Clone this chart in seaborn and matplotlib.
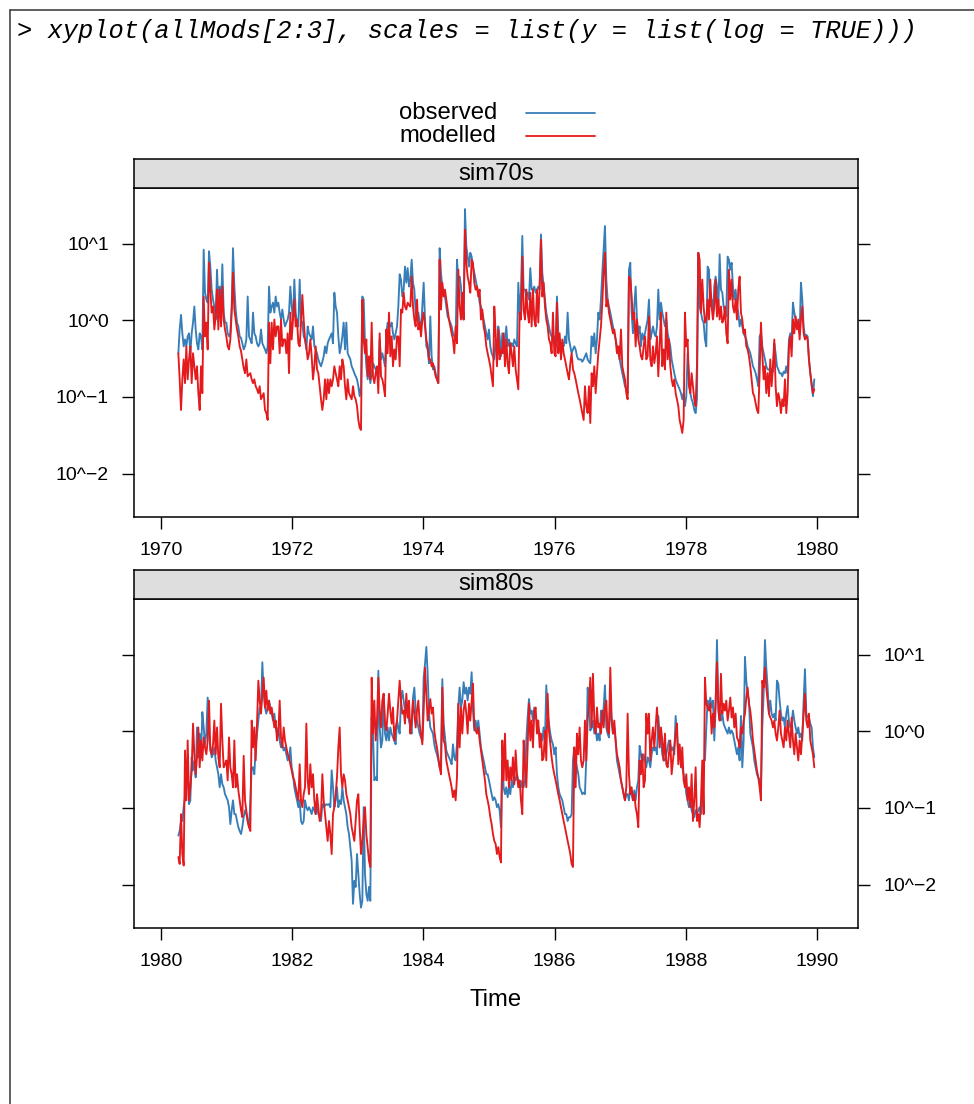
import numpy as np
import pandas as pd
import matplotlib
matplotlib.use("Agg")
import matplotlib.pyplot as plt
import seaborn as sns
from matplotlib.lines import Line2D

# ---------------- data (log10 of flow) ----------------
STEP = 1 / 49.2   # sampling interval of the series, in years (~7.4 days)

obs70_a = [
    -0.43, -0.12, 0.07, -0.17, -0.34, -0.25, -0.34, -0.21, -0.17, -0.43,
    -0.17, -0.03, 0.18, -0.12, -0.30, -0.38, -0.17, -0.21, -0.38, 0.92,
    0.36, 0.27, 0.23, 0.90, 0.70, 0.40, 0.27, 0.18, 0.01, 0.66,
    0.23, 0.44, 0.18, 0.73, 0.10, -0.03, -0.03, -0.17, -0.21, -0.17,
    0.18, 0.94, 0.44, 0.14, -0.03, -0.08, -0.21, -0.23, -0.30, -0.38,
    -0.34, -0.25, 0.31, -0.21, -0.25, -0.30, 0.10, -0.17, -0.21, -0.30,
    -0.34, -0.30, -0.12, -0.30, -0.34, -0.38, -0.43, -0.34, 0.44, 0.10,
    0.18, 0.23, 0.10, 0.31, 0.18, 0.23, 0.10, 0.01, 0.14, 0.01,
    -0.08, -0.03, 0.01, 0.10, 0.44, 0.18, 0.01, 0.53, 0.10, -0.03,
    -0.08, 0.53, 0.01, -0.03, -0.21, -0.25, -0.38, -0.08, -0.17, -0.21,
    -0.25, -0.08, -0.34, -0.38, -0.43, -0.51, -0.56, -0.60, -0.54, -0.47,
    -0.34, -0.43, -0.30, -0.25, -0.21, -0.17, -0.30, 0.36, 0.18, 0.10,
    -0.21, -0.43, -0.34, -0.21, -0.03, -0.38, -0.03, -0.43, -0.47, -0.51,
    -0.60, -0.64, -0.69, -0.73, -0.77, -0.86, -0.99, -0.86, 0.31, 0.27,
    -0.30, -0.60, -0.77, -0.60, -0.82, -0.69, -0.56, -0.60, -0.64, -0.69,
    -0.77, -0.25, -0.51, -0.43, -0.51, -0.60, -0.17, -0.03, -0.08, -0.08,
    -0.03, -0.17, -0.25, -0.17, -0.08, 0.18, 0.60, 0.53, 0.31, 0.40,
    0.70, 0.49, 0.68, 0.44, 0.53, 0.79, 0.49, 0.40, 0.10, 0.01,
    0.10, -0.03, -0.12, 0.18, 0.49, 0.01, -0.34, -0.38, -0.56,
]
mod70_a = [
    -0.43, -0.77, -1.17, -0.77, -0.51, -0.82, -0.34, -0.77, -0.51, -0.34,
    -0.82, -0.43, -0.60, -0.77, -0.60, -0.95, -1.17, -0.60, -0.95, 0.31,
    -0.21, -0.03, -0.38, 0.75, 0.40, 0.10, 0.18, -0.12, 0.05, 0.40,
    -0.12, 0.40, -0.08, 0.44, 0.01, -0.12, -0.21, -0.34, -0.38, -0.25,
    0.10, 0.62, 0.14, 0.01, -0.12, -0.21, -0.34, -0.40, -0.51, -0.62,
    -0.69, -0.51, -0.73, -0.71, -0.69, -0.77, -0.82, -0.77, -0.86, -0.90,
    -0.95, -0.86, -1.03, -0.99, -0.95, -1.17, -1.21, -1.30, -0.03, -0.56,
    -0.03, -0.38, 0.01, -0.21, -0.08, -0.08, -0.43, 0.01, -0.34, -0.25,
    -0.25, -0.43, -0.17, -0.69, 0.10, -0.25, 0.01, 0.27, -0.08, 0.01,
    -0.30, -0.34, -0.03, 0.33, 0.01, -0.25, -0.34, -0.51, -0.43, -0.25,
    -0.47, -0.77, -0.60, -0.34, -0.64, -0.69, -0.86, -1.03, -1.17, -1.03,
    -0.77, -1.03, -0.77, -0.95, -0.77, -0.86, -0.77, -0.60, -0.69, -0.77,
    -0.86, -0.60, -0.77, -0.51, -0.60, -0.86, -1.03, -0.77, -0.95, -0.99,
    -1.03, -0.86, -0.99, -1.03, -1.12, -1.30, -1.40, -1.43, 0.27, -0.25,
    -0.43, -0.25, -0.73, -0.47, -0.77, -0.03, -0.73, -0.82, -0.69, -0.60,
    -0.95, -0.17, -0.73, -0.77, -0.86, -0.99, -0.12, -0.43, 0.10, -0.47,
    -0.21, -0.60, -0.38, -0.51, -0.21, -0.21, -0.60, 0.14, 0.10, 0.36,
    0.18, 0.14, 0.23, 0.20, 0.18, 0.57, 0.18, 0.01, -0.08, 0.27,
    -0.12, -0.03, -0.21, 0.01, 0.10, -0.08, -0.25, -0.34, -0.51,
]
obs70_b = [
    0.05, -0.47, -0.64, -0.60, -0.69, -0.77, -0.82, 0.94, 0.62, 0.44,
    0.36, 0.31, 0.18, 0.05, 0.01, -0.03, -0.08, -0.17, -0.21, -0.25,
    0.79, 0.53, 0.57, 0.44, 0.10, 0.01, 1.45, 0.97, 0.83, 0.70,
    0.88, 0.83, 0.70, 0.62, 0.53, 0.44, 0.36, 0.23, 0.18, 0.10,
    0.01, -0.08, -0.17, -0.25, -0.12, -0.34, -0.43, -0.47, -0.51, -0.25,
    -0.43, -0.08, -0.21, -0.47, -0.17, -0.43, -0.25, -0.08, -0.34, -0.25,
    -0.34, -0.30, -0.34, -0.25, -0.30, -0.34, 0.49, 0.10, 0.36, 1.10,
    0.40, 0.40, 0.31, 0.36, 0.27, 0.68, 0.40, 0.40, 0.44, 0.36,
    0.40, 0.44, 0.40, 1.12, 0.62, 0.44, 0.27, 0.10, 0.01, -0.08,
    -0.17, -0.21, -0.25, -0.21, -0.34, 0.31, -0.17, -0.25, -0.30, -0.30,
    -0.34, -0.21, -0.30, 0.10, -0.25, -0.34, -0.43, -0.38, -0.34, -0.38,
    -0.47, -0.51, -0.51, -0.51, -0.54, -0.51, -0.47, -0.43, -0.51, -0.54,
    -0.56, -0.21, -0.34, -0.17, -0.43, -0.25, 0.10, 0.01, 0.27, 0.62,
    0.92, 1.23, 0.53, 0.27, 0.18, 0.10, 0.01, -0.08, -0.17, -0.25,
    -0.34, -0.43, -0.51, -0.60, -0.69, -0.77, -0.86, -0.90, -0.95, 0.66,
    0.75, 0.10, -0.17, 0.18, 0.44, 0.01, -0.17, -0.08, -0.34, -0.17,
    -0.25, -0.17, -0.08, 0.01, 0.27, -0.25, -0.17, -0.08, -0.17, -0.21,
    -0.08, 0.40, 0.01, 0.23, 0.10, 0.01, -0.08, 0.01, -0.17, -0.25,
    -0.34, -0.51, -0.60, -0.69, -0.77, -0.82, -0.86, -0.90, -0.95, -1.03,
    -0.95, -1.12, -0.99, -0.43, -0.69, -0.95, -1.03, -1.08, -1.17, -1.21,
    -1.03, 0.88, 0.18, 0.10, 0.01, -0.03, -0.25, -0.34, 0.70, 0.66,
    0.18, 0.27, 0.10, 0.44, 0.57, 0.44, 0.10, 0.86, 0.40, 0.36,
    0.18, 0.10, 0.05, 0.83, 0.79, 0.66, 0.75, 0.44, 0.27, 0.40,
    0.18, 0.10, -0.08, 0.01, -0.08, -0.17, -0.21, -0.25, -0.34, -0.38,
    -0.43, -0.51, -0.60, -0.64, -0.69, -0.77, -0.86, -0.21, -0.17, -0.34,
    -0.43, -0.51, -0.60, -0.64, -0.64, -0.67, -0.64, -0.67, -0.30, -0.43,
    -0.60, -0.64, -0.69, -0.69, -0.73, -0.67, -0.69, -0.60, -0.69, -0.25,
    -0.17, -0.25, 0.23, 0.10, 0.01, -0.08, -0.03, -0.17, 0.49, 0.27,
    -0.08, -0.21, -0.19, -0.21, -0.51, -0.69, -0.86, -0.99, -0.77,
]
mod70_b = [
    -0.51, -0.60, -0.56, -0.64, -0.73, -0.77, -0.82, 0.79, 0.14, 0.49,
    0.31, 0.40, 0.27, 0.14, 0.01, -0.08, -0.17, -0.25, -0.43, -0.08,
    -0.30, 0.66, 0.18, 0.01, 0.36, 0.01, 1.18, 0.75, 0.57, 0.49,
    0.36, 0.79, 0.75, 0.49, 0.40, 0.44, 0.31, 0.40, 0.01, 0.14,
    -0.08, -0.17, -0.34, -0.43, -0.51, -0.60, -0.73, -0.86, 0.18, -0.17,
    -0.60, -0.12, -0.51, -0.38, -0.43, -0.17, -0.60, -0.25, -0.56, -0.69,
    -0.30, -0.43, -0.60, -0.34, -0.64, -0.77, -0.90, 0.10, 0.01, 0.83,
    0.14, 0.01, 0.40, 0.10, -0.03, 0.36, -0.08, 0.40, 0.01, -0.08,
    0.40, -0.03, 0.44, 1.05, 0.31, 0.49, 0.18, 0.01, -0.08, -0.25,
    -0.30, -0.43, 0.10, -0.43, -0.47, 0.23, -0.43, -0.17, -0.51, -0.25,
    -0.43, -0.51, -0.60, -0.69, -0.77, -0.56, -0.43, -0.64, -0.69, -0.77,
    -0.86, -0.95, -1.03, -1.12, -1.21, -1.30, -0.86, -1.12, -1.21, -0.86,
    -1.34, -0.69, -0.86, -0.60, -0.95, -0.69, -0.43, -0.25, -0.08, 0.23,
    0.62, 0.88, 0.18, 0.27, 0.10, 0.01, -0.08, -0.17, -0.12, -0.25,
    -0.43, -0.34, -0.51, -0.12, -0.60, -0.69, -0.77, -0.95, -1.03, 0.57,
    0.53, 0.31, 0.01, 0.10, -0.34, 0.01, -0.25, -0.34, -0.47, -0.51,
    -0.34, -0.21, -0.51, -0.47, 0.05, -0.51, -0.60, -0.34, -0.56, -0.43,
    -0.21, -0.73, -0.34, 0.10, -0.60, -0.38, -0.64, 0.10, -0.51, -0.25,
    -0.60, -0.77, -0.86, -0.77, -0.95, -1.03, -1.12, -1.30, -1.38, -1.47,
    -1.30, 0.10, -0.34, -0.25, -0.86, -0.95, -0.69, -0.86, -1.03, -1.12,
    -0.60, 0.88, 0.79, 0.10, 0.53, 0.18, -0.03, 0.01, 0.27, 0.01,
    0.53, 0.18, 0.01, 0.18, 0.53, 0.05, 0.27, 0.01, 0.18, -0.03,
    0.01, 0.18, -0.17, -0.30, 0.66, 0.27, 0.53, 0.18, 0.10, 0.27,
    0.01, 0.40, 0.57, 0.10, 0.01, -0.17, -0.12, -0.34, -0.38, -0.47,
    -0.60, -0.77, -0.95, -0.99, -1.08, -1.17, -1.21, -0.69, -0.03, -0.43,
    -0.77, -0.60, -0.95, -0.69, -0.99, -0.51, -0.86, -0.60, -0.25, -0.86,
    -1.12, -0.95, -1.03, -1.21, -1.03, -1.12, -0.77, -1.21, -0.95, -0.34,
    -0.21, -0.47, 0.01, -0.17, 0.05, -0.12, 0.01, -0.25, 0.01, 0.18,
    -0.17, -0.25, -0.21, -0.25, -0.51, -0.69, -0.82, -0.95, -0.90,
]
obs80_a = [
    -1.36, -1.30, -1.17, -1.17, -0.99, -0.86, -0.73, -0.38, -0.95, -0.90,
    -0.34, -0.51, -0.38, -0.60, 0.05, -0.34, -0.03, -0.34, 0.25, 0.05,
    -0.17, -0.03, 0.44, -0.03, -0.21, -0.34, -0.30, -0.21, -0.38, -0.47,
    -0.56, -0.73, -0.56, -0.69, -0.73, -0.82, -0.86, -0.90, -0.99, -1.21,
    -1.03, -0.90, -1.08, -1.08, -1.17, -1.25, -1.30, -1.34, -1.25, -1.12,
    -1.03, -1.08, -1.17, -1.25, -0.90, -0.47, -0.47, -0.56, -0.21, -0.03,
    0.14, 0.31, 0.31, 0.90, 0.49, 0.31, 0.23, 0.31, 0.40, 0.31,
    0.23, 0.14, 0.23, 0.05, -0.03, 0.05, -0.12, -0.21, -0.17, -0.25,
    -0.21, -0.30, -0.38, -0.34, -0.21, -0.47, -0.56, -0.73, -0.82, -0.90,
    -0.99, -0.90, -1.17, -1.21, -1.17, -0.90, -0.99, -1.03, -0.99, -1.03,
    -1.08, -0.99, -1.03, -1.08, -0.99, -1.08, -1.12, -1.17, -0.95, -0.99,
    -0.97, -0.95, -0.96, -0.95, -0.99, -0.51, -0.73, -0.99, -0.90, -0.73,
    -0.99, -0.90, -0.95, -0.73, -0.90, -0.99, -1.08, -1.25, -1.34, -1.51,
    -1.69, -2.25, -1.95, -2.03, -1.60, -1.86, -2.12, -2.30, -2.21, -0.99,
    -1.86, -2.12, -2.21, -2.03, -2.21, 0.18, -0.03, -0.64, -0.60, -0.64,
    0.79, 0.05, -0.21, -0.12, 0.49, -0.03, -0.12, 0.05, -0.12, 0.05,
    -0.03, -0.08, -0.12, -0.17, 0.14, 0.05, -0.03, 0.40, 0.53, 0.40,
    0.27, 0.40, 0.23, 0.14, 0.05, -0.03, 0.44, 0.57, 0.27, 0.14,
    0.05, -0.03, -0.08, -0.12, 0.70, 0.88, 1.10, 0.75, 0.23,
]
mod80_a = [
    -1.64, -1.73, -1.08, -1.60, -1.75, -0.25, -0.90, -0.12, -0.90, -0.73,
    -0.51, 0.10, -0.30, -0.56, -0.34, 0.05, -0.47, -0.12, -0.38, -0.08,
    -0.21, -0.30, -0.12, 0.40, -0.25, -0.30, -0.17, 0.14, -0.30, 0.05,
    -0.34, -0.47, 0.36, -0.12, -0.47, -0.43, -0.38, -0.64, -0.08, -0.47,
    -0.56, -0.73, -0.12, -0.73, -0.56, -0.77, -0.90, -1.03, -1.12, -0.32,
    -0.90, -1.03, -1.17, -1.25, -1.30, 0.14, -0.21, 0.05, -0.38, 0.10,
    0.66, 0.40, 0.23, 0.49, 0.70, 0.31, 0.53, 0.27, 0.40, 0.23,
    0.31, 0.18, 0.05, 0.14, -0.12, -0.03, 0.40, -0.08, -0.21, 0.05,
    -0.12, -0.21, -0.30, -0.34, -0.43, -0.51, -0.60, -0.64, -0.73, -0.82,
    -0.90, -0.43, -0.90, -0.99, -0.82, -0.73, 0.10, -0.64, -0.82, -0.43,
    -0.73, -0.56, -0.90, -1.08, -0.82, -0.99, -1.17, -1.08, -0.56, -0.90,
    -1.08, -1.25, -1.43, -1.17, -1.34, -1.60, -1.08, -0.99, -0.82, -0.60,
    -0.21, 0.05, -0.56, -0.73, -0.56, -0.64, -0.82, -0.90, -0.99, -1.08,
    -1.25, -1.34, -1.43, -1.17, -0.90, -0.82, -1.25, -1.60, -1.43, -1.17,
    -0.99, -1.34, -1.51, -1.69, -1.77, 0.70, -0.03, 0.40, -0.12, 0.14,
    0.70, 0.27, 0.05, 0.40, 0.49, 0.10, 0.01, 0.23, 0.49, 0.27,
    0.10, 0.31, -0.12, 0.05, 0.14, 0.40, 0.66, 0.40, 0.23, 0.27,
    0.10, 0.49, 0.18, 0.40, -0.03, 0.14, 0.40, 0.23, 0.05, 0.27,
    0.40, 0.10, -0.03, -0.17, 0.27, 0.83, 0.49, 0.14, 0.27,
]
obs80_b = [
    0.05, 0.01, -0.03, -0.17, -0.25, -0.30, -0.38, -0.47, -0.43, 0.68,
    0.10, -0.08, -0.25, -0.30, -0.34, -0.38, -0.43, -0.17, -0.34, -0.38,
    -0.17, 0.31, 0.57, 0.31, 0.40, 0.64, 0.49, 0.57, 0.40, 0.57,
    0.49, 0.77, 0.27, 0.01, 0.14, 0.01, 0.14, -0.03, -0.21, -0.30,
    -0.38, -0.47, -0.56, -0.56, -0.64, -0.73, -0.82, -0.90, -0.86, -0.90,
    -0.99, -0.95, -1.03, -1.25, -0.38, -0.73, -0.82, -0.73, -0.86, -0.73,
    -0.82, -0.64, -0.73, -0.60, -0.64, -0.56, -0.64, -0.69, -0.73, -0.64,
    -0.73, -0.64, -0.12, 0.18, 0.42, 0.23, 0.27, 0.14, 0.31, 0.18,
    0.14, 0.05, -0.03, -0.08, -0.12, 0.05, -0.12, 0.60, 0.23, 0.10,
    -0.03, -0.12, -0.17, -0.30, -0.21, -0.56, -0.73, -0.82, -0.86, -0.90,
    -0.99, -1.08, -1.08, -1.17, -1.12, -1.12, -1.08, -0.38, -0.21, -0.38,
    -0.47, -0.56, -0.73, -0.77, -0.82, -0.80, -0.82, -0.34, 0.57, 0.40,
    0.01, 0.05, 0.14, -0.03, 0.05, -0.12, -0.03, -0.12, 0.27, 0.10,
    0.31, 0.60, 0.05, -0.03, -0.08, 0.40, 0.14, -0.03, 0.05, -0.12,
    -0.38, -0.47, -0.56, -0.64, -0.73, -0.82, -0.90, -0.82, -0.82, -0.90,
    -0.73, -0.82, -0.90, -0.77, -0.90, -0.73, -0.64, -0.19, -0.30, -0.43,
    -0.30, -0.38, -0.47, -0.34, -0.38, -0.47, -0.30, -0.21, -0.25, -0.21,
    -0.30, 0.20, -0.03, -0.12, -0.30, -0.38, -0.38, -0.30, -0.21, -0.12,
    -0.17, -0.25, -0.21, -0.30, 0.20, -0.03, -0.30, -0.21, -0.38, -0.47,
    -0.56, -0.64, -0.82, -0.90, -0.99, -0.90, -1.03, -1.08, -1.12, -1.03,
    -1.08, -1.03, -0.99, -1.08, -0.90, -0.38, -0.38, 0.05, 0.40, 0.31,
    0.44, 0.31, 0.40, -0.12, 0.31, 1.19, 0.40, 0.27, 0.14, 0.23,
    0.10, 0.05, 0.01, -0.03, 0.05, -0.03, 0.01, -0.03, -0.12, -0.21,
    -0.30, -0.21, -0.38, 0.20, -0.47, -0.12, 0.97, 0.66, 0.49, 0.40,
    -0.03, -0.12, -0.21, -0.38, -0.47, -0.56, -0.60, -0.64, -0.73, 0.05,
    0.49, 1.19, 0.83, 0.57, 0.23, 0.40, 0.23, 0.18, 0.23, 0.14,
    0.66, 0.62, 0.40, 0.23, 0.14, 0.18, 0.05, 0.23, 0.33, 0.14,
    0.05, 0.10, 0.27, 0.14, 0.05, -0.03, 0.05, -0.08, -0.03, -0.12,
    0.40, 0.81, 0.23, 0.18, 0.18, 0.10, 0.05, -0.21, -0.34,
]
mod80_b = [
    0.42, 0.23, 0.31, 0.01, -0.12, -0.21, -0.34, -0.47, -0.56, 0.57,
    -0.12, -0.17, -0.38, -0.47, -0.56, -0.64, -0.73, -0.86, -0.77, -0.90,
    -0.60, 0.36, -0.21, 0.31, -0.03, 0.27, 0.40, 0.23, -0.03, 0.36,
    0.14, 0.40, 0.62, 0.05, 0.01, -0.03, 0.05, -0.12, -0.25, -0.38,
    -0.51, -0.64, -0.82, -0.90, -0.99, -1.12, -1.21, -1.34, -1.43, -1.47,
    -1.60, -1.51, -1.64, -1.71, -0.12, -0.64, -0.03, -0.64, -0.38, -0.73,
    -0.47, -0.64, -0.34, -0.69, -0.25, -0.56, -0.73, -0.64, -0.90, -1.08,
    -0.12, -0.47, -0.73, -0.21, 0.36, -0.12, 0.14, -0.21, 0.27, 0.31,
    -0.03, 0.14, -0.21, -0.03, -0.38, -0.34, 0.01, -0.38, 0.49, 0.01,
    -0.17, -0.34, -0.47, -0.56, -0.64, -0.73, -0.82, -0.90, -0.99, -1.08,
    -1.17, -1.25, -1.34, -1.43, -1.51, -1.60, -1.73, -1.77, -0.21, -0.73,
    -0.03, -0.30, 0.05, -0.38, -0.47, -0.38, 0.14, -0.38, 0.14, 0.36,
    0.70, 0.05, 0.75, 0.14, -0.03, 0.31, 0.05, 0.10, -0.03, 0.27,
    0.05, 0.31, 0.40, 0.01, -0.03, 0.83, 0.18, -0.03, 0.14, -0.12,
    -0.30, -0.38, -0.47, -0.64, -0.73, -0.82, -0.90, -0.73, 0.23, -0.56,
    -0.82, -0.73, -0.90, -0.82, -0.99, -1.08, -1.25, -0.38, -0.56, -0.30,
    -0.73, -0.64, 0.23, -0.03, 0.23, -0.38, -0.12, 0.05, -0.21, 0.05,
    0.31, 0.05, -0.21, 0.05, -0.12, -0.38, -0.03, -0.43, -0.47, -0.30,
    -0.12, -0.56, -0.38, -0.21, -0.03, 0.10, -0.43, -0.17, -0.47, -0.21,
    -0.64, -0.73, -0.56, -0.90, -0.73, -0.99, -0.56, -1.17, -0.90, -0.47,
    -1.17, -1.08, -1.25, -0.90, -0.38, -1.08, 0.70, 0.36, 0.31, 0.27,
    0.36, -0.03, 0.23, 0.05, 0.40, 0.90, 0.27, 0.14, 0.75, 0.23,
    0.36, 0.27, 0.40, 0.14, 0.27, 0.44, 0.18, 0.31, 0.05, 0.23,
    -0.08, -0.12, -0.21, 0.05, -0.03, 0.14, 0.23, 0.44, 0.57, 0.36,
    0.27, 0.10, -0.12, -0.25, -0.38, -0.51, -0.60, -0.73, -0.90, 0.66,
    0.57, 0.83, 0.57, 0.40, 0.23, 0.18, 0.14, 0.05, 0.14, -0.03,
    -0.12, 0.05, 0.27, -0.03, -0.12, -0.21, 0.05, -0.12, 0.14, -0.03,
    -0.21, 0.18, -0.12, -0.30, -0.03, -0.21, -0.38, -0.12, -0.30, -0.03,
    0.23, 0.49, 0.14, 0.05, 0.23, -0.12, -0.21, -0.30, -0.47,
]

panels = ["sim70s", "sim80s"]
series_names = ["observed", "modelled"]
series_colors = ["#377EB8", "#E41A1C"]
x_ticks = {"sim70s": [1970, 1972, 1974, 1976, 1978, 1980],
           "sim80s": [1980, 1982, 1984, 1986, 1988, 1990]}
y_ticks = [-2, -1, 0, 1]
y_ticklabels = ["10^\u22122", "10^\u22121", "10^0", "10^1"]
code_line = "> xyplot(allMods[2:3], scales = list(y = list(log = TRUE)))"

segments = {
    ("sim70s", "observed"): [(1970.264, obs70_a), (1974.105, obs70_b)],
    ("sim70s", "modelled"): [(1970.264, mod70_a), (1974.105, mod70_b)],
    ("sim80s", "observed"): [(1980.264, obs80_a), (1984.105, obs80_b)],
    ("sim80s", "modelled"): [(1980.264, mod80_a), (1984.105, mod80_b)],
}
rows = []
for (panel, name), segs in segments.items():
    for start, vals in segs:
        times = start + STEP * np.arange(len(vals))
        for t, v in zip(times, vals):
            rows.append((panel, name, t, v))
df = pd.DataFrame(rows, columns=["panel", "series", "time", "log10_flow"])

# ---------------- figure ----------------
sns.set_theme(style="white")
plt.rcParams["font.family"] = ["Liberation Sans", "DejaVu Sans"]
plt.rcParams["axes.edgecolor"] = "black"
plt.rcParams["axes.linewidth"] = 1.1
plt.rcParams["text.color"] = "black"
plt.rcParams["axes.labelcolor"] = "black"
plt.rcParams["xtick.color"] = "black"
plt.rcParams["ytick.color"] = "black"

W, H = 974, 1104
fig = plt.figure(figsize=(W / 100, H / 100), dpi=100)
fig.patch.set_facecolor("white")


def fx(px):
    return px / W


def fy(py):
    return 1 - py / H


# Sweave-like frame and code line
fig.add_artist(Line2D([fx(10), fx(10)], [0, fy(10)], color="#444444", lw=1.2))
fig.add_artist(Line2D([fx(10), 1], [fy(10), fy(10)], color="#444444", lw=1.2))
fig.text(fx(17), fy(31), code_line, family=["Liberation Mono", "DejaVu Sans Mono"],
         style="italic", size=18.4, va="center", ha="left", color="black")

# legend (key)
TXT = 17.2
fig.text(fx(399), fy(113), series_names[0], size=TXT, va="center", ha="left", color="black")
fig.text(fx(399), fy(136), series_names[1], size=TXT, va="center", ha="left", color="black")
fig.add_artist(Line2D([fx(526), fx(595)], [fy(112.5), fy(112.5)], color=series_colors[0], lw=1.3))
fig.add_artist(Line2D([fx(526), fx(595)], [fy(135.5), fy(135.5)], color=series_colors[1], lw=1.3))

palette = dict(zip(series_names, series_colors))
layout = {"sim70s": (159, 188, 517), "sim80s": (570, 599, 928)}
left_px, right_px = 134, 858
xlims = {"sim70s": (1969.588, 1980.625), "sim80s": (1979.588, 1990.625)}
ylim = (-2.565, 1.725)

for i, panel in enumerate(panels):
    s_top, a_top, a_bot = layout[panel]
    ax = fig.add_axes([fx(left_px), fy(a_bot), fx(right_px - left_px), (a_bot - a_top) / H])
    sub = df[df["panel"] == panel]
    sns.lineplot(data=sub, x="time", y="log10_flow", hue="series",
                 hue_order=series_names, palette=palette, estimator=None,
                 sort=False, linewidth=1.35, legend=False, ax=ax)
    ax.set_xlim(*xlims[panel])
    ax.set_ylim(*ylim)
    ax.set_xticks(x_ticks[panel])
    ax.set_xticklabels([str(v) for v in x_ticks[panel]])
    ax.set_yticks(y_ticks)
    ax.set_yticklabels(y_ticklabels)
    ax.set_xlabel("")
    ax.set_ylabel("")
    for sp in ax.spines.values():
        sp.set_visible(True)
        sp.set_color("black")
        sp.set_linewidth(1.1)
    ax.tick_params(axis="both", which="major", direction="out", length=8.6,
                   width=1.0, color="black", labelsize=14, pad=9.5, labelcolor="black")
    ax.tick_params(axis="x", bottom=True, top=False)
    if i == 0:
        ax.tick_params(axis="y", left=True, right=True, labelleft=True, labelright=False)
    else:
        ax.tick_params(axis="y", left=True, right=True, labelleft=False, labelright=True)

    # strip
    sax = fig.add_axes([fx(left_px), fy(a_top), fx(right_px - left_px), (a_top - s_top) / H])
    sax.set_facecolor("#DEDEDE")
    sax.set_xticks([])
    sax.set_yticks([])
    for sp in sax.spines.values():
        sp.set_visible(True)
        sp.set_color("black")
        sp.set_linewidth(1.1)
    sax.text(0.5, 0.5, panel, transform=sax.transAxes, ha="center", va="center",
             size=TXT, color="black")

fig.text(fx(496), fy(1000), "Time", size=TXT, ha="center", va="center", color="black")

fig.savefig("out.png", dpi=100, facecolor="white")
